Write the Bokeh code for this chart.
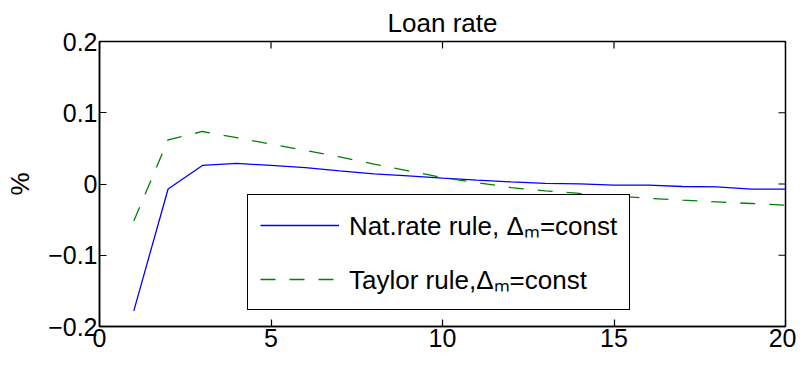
import math
from bokeh.plotting import figure
from bokeh.models import FixedTicker, Legend, LegendItem, Range1d
from bokeh.embed import file_html
from bokeh.resources import INLINE

# ---- data ----
periods = list(range(1, 21))
nat_rate_rule = [-0.178, -0.007, 0.026, 0.029, 0.026, 0.023, 0.0185, 0.0143, 0.0115,
                 0.0082, 0.0053, 0.003, 0.001, 0.0003, -0.0017, -0.0017, -0.0035,
                 -0.004, -0.0073, -0.0073]
taylor_rule = [-0.052, 0.062, 0.0737, 0.065, 0.056, 0.047, 0.038, 0.028, 0.0185,
               0.009, 0.002, -0.005, -0.0096, -0.0133, -0.0166, -0.02, -0.0227,
               -0.025, -0.0274, -0.0297]
x_ticks = [0, 5, 10, 15, 20]
y_ticks = [-0.2, -0.1, 0.0, 0.1, 0.2]
y_tick_labels = ["\u22120.2", "\u22120.1", "0", "0.1", "0.2"]
series_labels = ["Nat.rate rule, \u0394\u2098=const", "Taylor rule,\u0394\u2098=const"]
title_text = "Loan rate"
y_label = "%"

FONT = "Liberation Sans"
TICK_FS = "25px"
TEXT_FS = "26px"

X0, X1 = x_ticks[0], x_ticks[-1]
Y0, Y1 = y_ticks[0], y_ticks[-1]

p = figure(width=796, height=357, output_backend="svg", toolbar_location=None,
           x_range=Range1d(X0, X1), y_range=Range1d(Y0, Y1),
           min_border_left=99, min_border_right=11, min_border_top=41,
           min_border_bottom=31, title=title_text)
p.title.align = "center"
p.title.text_font = FONT
p.title.text_font_size = TEXT_FS
p.title.text_font_style = "normal"
p.title.text_color = "black"
p.title.standoff = 8
p.grid.visible = False
p.outline_line_color = "black"
p.outline_line_width = 1.5
p.background_fill_color = "white"
p.border_fill_color = "white"

for ax in (p.xaxis[0], p.yaxis[0]):
    ax.axis_line_width = 1.5
    ax.axis_line_color = "black"
    ax.major_tick_in = 7
    ax.major_tick_out = 0
    ax.major_tick_line_width = 1.2
    ax.major_tick_line_color = "black"
    ax.minor_tick_line_color = None
    ax.major_label_text_font = FONT
    ax.major_label_text_font_size = TICK_FS
    ax.major_label_text_color = "black"

p.xaxis.ticker = FixedTicker(ticks=x_ticks)
p.yaxis.ticker = FixedTicker(ticks=y_ticks)
p.yaxis.major_label_overrides = {t: l for t, l in zip(y_ticks, y_tick_labels)}
p.xaxis.major_label_standoff = 2
p.yaxis.major_label_standoff = 2
p.yaxis.axis_label = y_label
p.yaxis.axis_label_text_font = FONT
p.yaxis.axis_label_text_font_size = TEXT_FS
p.yaxis.axis_label_text_font_style = "normal"
p.yaxis.axis_label_text_color = "black"
p.yaxis.axis_label_standoff = 10

# mirrored inward ticks on the top and right edges of the box
p.ray(x=x_ticks, y=[Y1] * len(x_ticks), length=7, length_units="screen",
      angle=-math.pi / 2, line_color="black", line_width=1.2)
p.ray(x=[X1] * len(y_ticks), y=y_ticks, length=7, length_units="screen",
      angle=math.pi, line_color="black", line_width=1.2)

r1 = p.line(periods, nat_rate_rule, line_color="#0000ff", line_width=1.3)
r2 = p.line(periods, taylor_rule, line_color="#008000", line_width=1.3,
            line_dash="15 14")

legend = Legend(items=[LegendItem(label=series_labels[0], renderers=[r1]),
                       LegendItem(label=series_labels[1], renderers=[r2])],
                location=(148, 16))
legend.label_text_font = FONT
legend.label_text_font_size = TEXT_FS
legend.label_text_color = "black"
legend.glyph_width = 79
legend.glyph_height = 30
legend.label_height = 30
legend.label_standoff = 10
legend.spacing = 18
legend.padding = 12
legend.margin = 0
legend.border_line_color = "black"
legend.border_line_width = 1.5
legend.border_line_alpha = 1
legend.background_fill_alpha = 1
p.add_layout(legend, "center")

open("out.html", "w").write(file_html(p, INLINE))
